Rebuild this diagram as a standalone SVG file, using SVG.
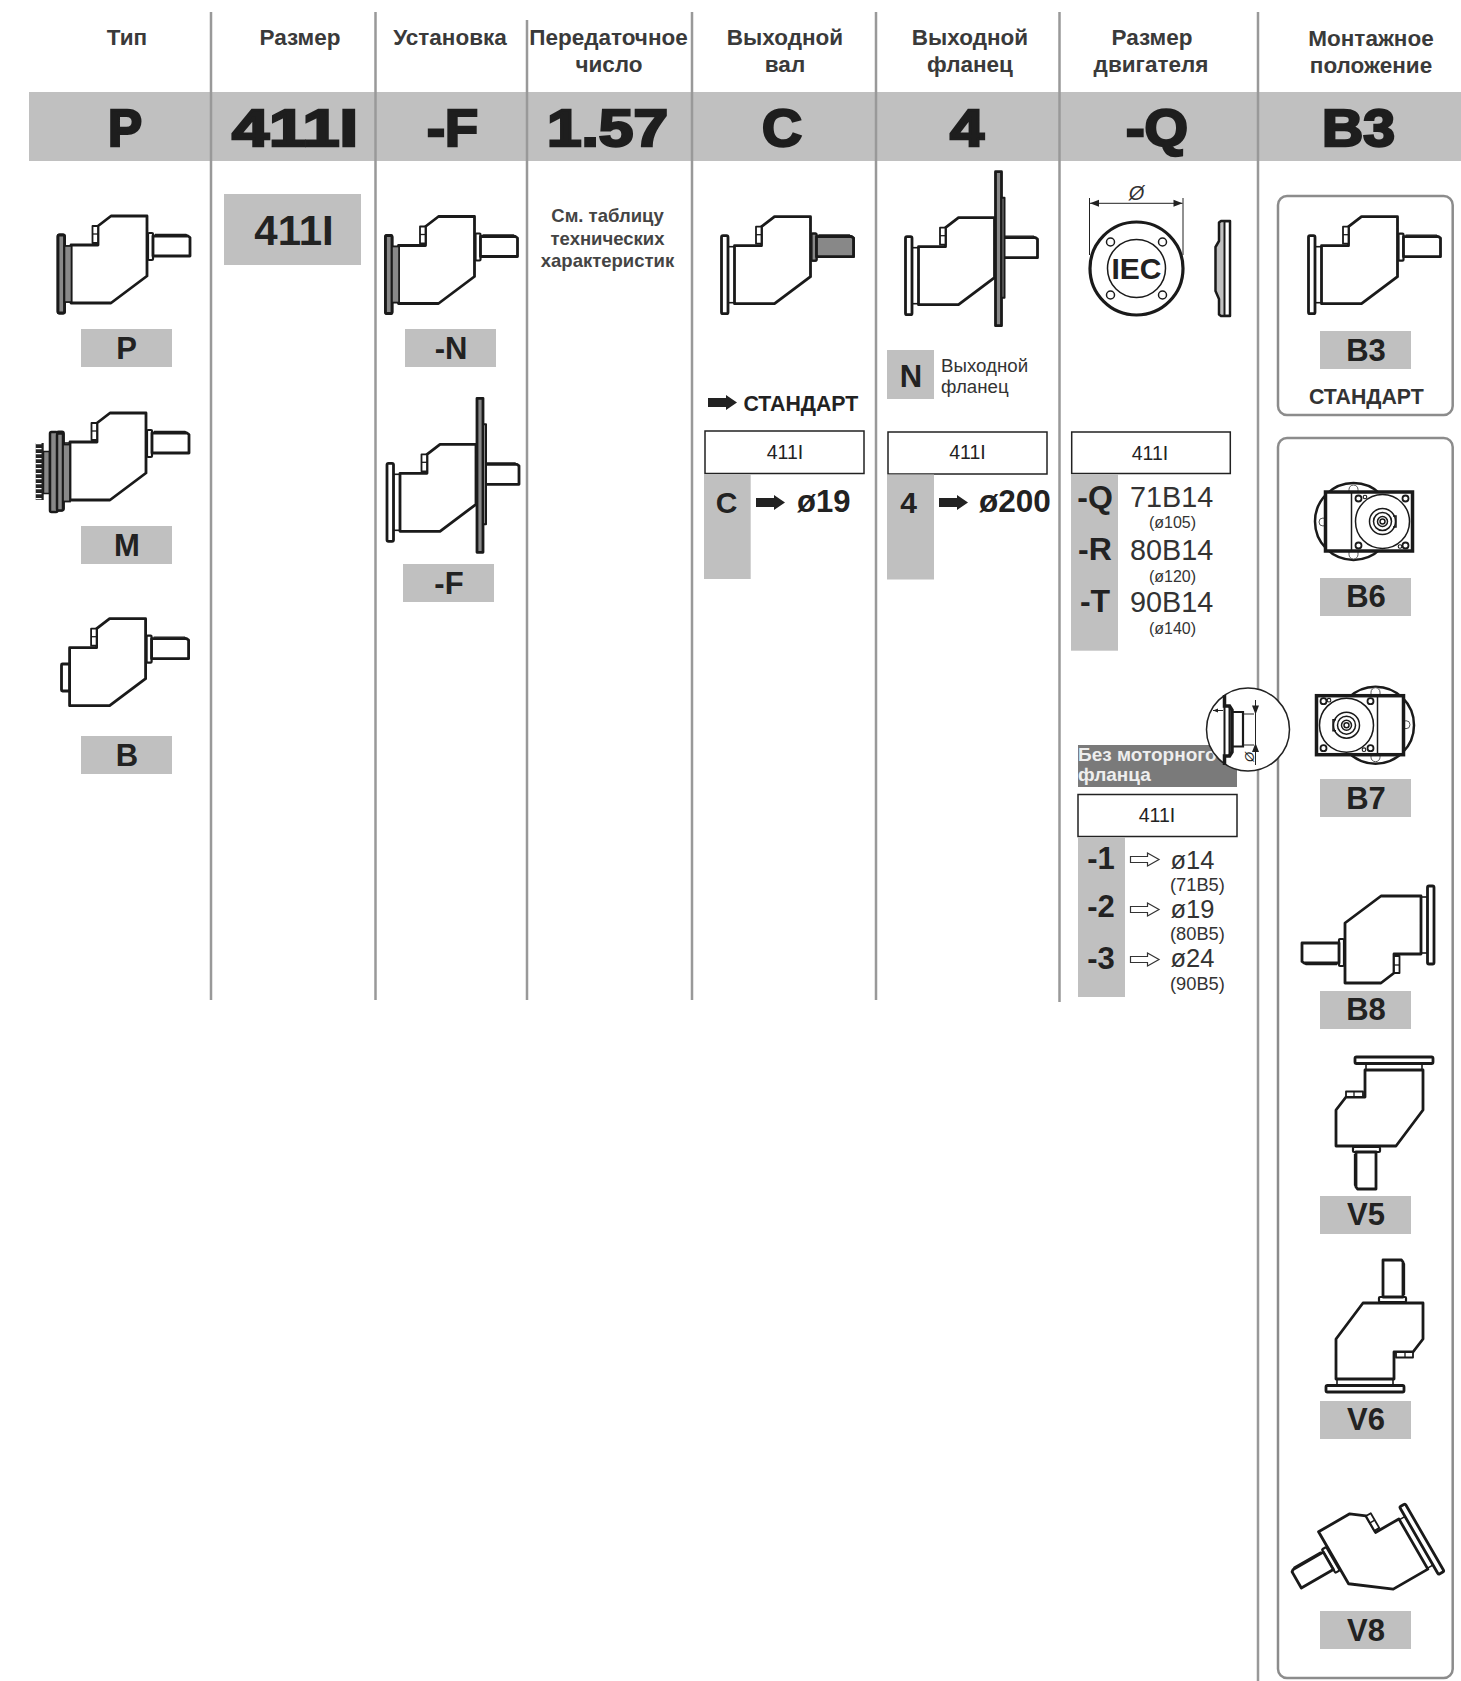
<svg xmlns="http://www.w3.org/2000/svg" xmlns:xlink="http://www.w3.org/1999/xlink" width="1461" height="1681" viewBox="0 0 1461 1681">
<style>
text{font-family:"Liberation Sans",Arial,sans-serif;fill:#222}
.h{font-size:22.500px;font-weight:bold;text-anchor:middle;fill:#3a3a3a}
.big{font-size:52px;font-weight:bold;fill:#1e1e1e;stroke:#1e1e1e;stroke-width:2.500}
.lb{font-size:31px;font-weight:bold;text-anchor:middle}
.g{fill:#c0c0c0}
.col{stroke:#999;stroke-width:2.5;fill:none}
.rb{fill:#fff;stroke:#8c8c8c;stroke-width:2.5}
.s{font-size:19.5px;text-anchor:middle}
.tb{fill:#fff;stroke:#222;stroke-width:1.5}
.m{font-size:28.8px;fill:#333}
.sm{font-size:16px;text-anchor:middle;fill:#333}
.st{font-size:21.300px;font-weight:bold}
.l{stroke:#1a1a1a;stroke-width:2.8;stroke-linejoin:round;stroke-linecap:round}
.t{stroke:#1a1a1a;stroke-width:1.3;fill:none}
.n{fill:none;stroke:#1a1a1a;stroke-width:1.5}
</style>
<defs>
<rect id="flange" class="l" x="1" y="19" width="6.500" height="78" rx="1.5"/>
<rect id="neck" x="7.5" y="30" width="7" height="56" stroke="#1a1a1a" stroke-width="1.6"/>
<path id="body" class="l" fill="#fff" d="M14,29H41V10L54,0H90V60L54,87H14Z"/>
<g id="tab"><rect class="l" style="stroke-width:1.8" fill="#fff" x="35.5" y="10" width="5.5" height="17"/><path class="t" d="M35.5,18H41"/></g>
<rect id="collar" class="l" style="stroke-width:2.200" x="91" y="17" width="5" height="27" rx="1"/>
<g id="shaft"><path class="l" d="M96,20H131L133,21.500V40H96Z"/><path class="t" d="M98,18.500H129L131,20"/></g>
<g id="bflange"><path class="l" fill="#888" d="M91,-46H97V108H91Z"/><path class="l" style="stroke-width:2" fill="#888" d="M97,-20H100V80H97Z"/></g>
<g id="gear" fill="#fff"><use href="#neck"/><use href="#flange"/><use href="#body"/><use href="#tab"/><use href="#collar"/><use href="#shaft"/></g>
<path id="sarr" fill="#222" d="M0,3H18V0L29,7.500L18,15V12H0Z"/>
<path id="oarr" fill="#fff" stroke="#333" stroke-width="1.2" d="M0,3.500H17V0L28.500,6.500L17,13V9.500H0Z"/>
<g id="topview">
<circle cx="1353.500" cy="521.500" r="38.500" fill="#fff" stroke="#1a1a1a" stroke-width="2.500"/>
<rect x="1349" y="485" width="9" height="12" rx="4.500" fill="#fff" stroke="#555" stroke-width="1"/>
<rect x="1349" y="547" width="9" height="12" rx="4.500" fill="#fff" stroke="#555" stroke-width="1"/>
<circle cx="1323" cy="522" r="4" fill="#fff" stroke="#555" stroke-width="1"/>
<rect x="1325.500" y="492" width="87" height="59" fill="#fff" stroke="#1a1a1a" stroke-width="3.500"/>
<path d="M1351.500,492V551" stroke="#1a1a1a" stroke-width="1.5"/>
<circle cx="1382.500" cy="521.500" r="27" class="n"/>
<circle cx="1382.500" cy="521.500" r="13" class="n"/><circle cx="1382.500" cy="521.500" r="9" class="n"/>
<circle cx="1382.500" cy="521.500" r="5" class="n"/><circle cx="1382.500" cy="521.500" r="2.500" class="n"/>
<path class="n" d="M1393,516h3v11h-3"/>
<g fill="#fff" stroke="#1a1a1a" stroke-width="1.800"><circle cx="1358.500" cy="498.500" r="3"/><circle cx="1405.500" cy="498.500" r="3"/><circle cx="1358.500" cy="545.500" r="3"/><circle cx="1405.500" cy="545.500" r="3"/></g>
<g fill="#fff" stroke="#1a1a1a" stroke-width="1.100"><circle cx="1365" cy="497" r="1.800"/><circle cx="1400" cy="546.500" r="1.800"/></g>
</g>
</defs>

<rect class="g" x="29" y="92" width="1432" height="69"/>

<g id="box-b3"><rect class="rb" x="1278" y="196" width="174.700" height="219" rx="9"/></g>
<g id="box-positions"><rect class="rb" x="1278" y="438" width="174.700" height="1240" rx="9"/></g>

<g id="column-lines" class="col">
<path d="M211,12V1000M375.500,12V1000M527,20V1000M692,12V1000M876,12V1000M1059.500,12V1002M1258,12V1681"/>
</g>

<g id="headers">
<text class="h" x="127" y="45">Тип</text>
<text class="h" x="300" y="45">Размер</text>
<text class="h" x="450" y="45">Установка</text>
<text class="h" x="608.500" y="45">Передаточное</text><text class="h" x="609" y="72">число</text>
<text class="h" x="785" y="45">Выходной</text><text class="h" x="785" y="72">вал</text>
<text class="h" x="970" y="45">Выходной</text><text class="h" x="970" y="72">фланец</text>
<text class="h" x="1152" y="45">Размер</text><text class="h" x="1151" y="72">двигателя</text>
<text class="h" x="1371" y="46">Монтажное</text><text class="h" x="1371" y="73">положение</text>
</g>

<g id="code">
<text class="big" x="108" y="146" textLength="34" lengthAdjust="spacingAndGlyphs">P</text>
<text class="big" x="232" y="146" textLength="126" lengthAdjust="spacingAndGlyphs">411I</text>
<text class="big" x="427" y="146" textLength="51" lengthAdjust="spacingAndGlyphs">-F</text>
<text class="big" x="547" y="146" textLength="121" lengthAdjust="spacingAndGlyphs">1.57</text>
<text class="big" x="762" y="146" textLength="40" lengthAdjust="spacingAndGlyphs">C</text>
<text class="big" x="950" y="146" textLength="34" lengthAdjust="spacingAndGlyphs">4</text>
<text class="big" x="1126" y="146" textLength="62" lengthAdjust="spacingAndGlyphs">-Q</text>
<text class="big" x="1322" y="146" textLength="73" lengthAdjust="spacingAndGlyphs">B3</text>
</g>

<g id="type-p">
<g transform="translate(57,216)"><use href="#gear"/><use href="#flange" fill="#888"/><use href="#neck" fill="#888"/></g>
<rect class="g" x="81" y="329" width="91" height="38"/><text class="lb" x="126.500" y="359">P</text>
</g>
<g id="type-m">
<g transform="translate(56,413)"><use href="#gear"/></g>
<rect x="35.700" y="443" width="8" height="57" fill="#222"/>
<path d="M38.500,443V500" stroke="#fff" stroke-width="6" stroke-dasharray="1.200 3.800" fill="none"/>
<rect x="43.500" y="451.500" width="6" height="42" fill="#888" stroke="#1a1a1a" stroke-width="1.500"/>
<rect x="50" y="432" width="7.500" height="80" rx="1.500" fill="#888" stroke="#1a1a1a" stroke-width="2.500"/>
<rect x="57" y="433.500" width="6" height="77" rx="1.500" fill="#888" stroke="#1a1a1a" stroke-width="2.500"/>
<rect x="63" y="444.500" width="7" height="57" fill="#888" stroke="#1a1a1a" stroke-width="1.800"/>
<rect class="g" x="81" y="526" width="91" height="38"/><text class="lb" x="127" y="556">M</text>
</g>
<g id="type-b">
<g transform="translate(55.600,618.700)" fill="#fff"><use href="#body"/><use href="#tab"/><use href="#collar"/><use href="#shaft"/></g>
<rect class="l" fill="#fff" x="61.500" y="664" width="8" height="27" rx="1"/>
<rect class="g" x="81" y="736" width="91" height="38"/><text class="lb" x="127" y="766">B</text>
</g>

<g id="size-411i">
<rect class="g" x="224" y="194" width="137" height="71"/>
<text x="294" y="245" font-size="42" font-weight="bold" text-anchor="middle">411I</text>
</g>

<g id="mount-n">
<g transform="translate(384.500,216.500)"><use href="#gear"/><use href="#flange" fill="#888"/><use href="#neck" fill="#888"/></g>
<rect class="g" x="405" y="329" width="91" height="38"/><text class="lb" x="451" y="359">-N</text>
</g>
<g id="mount-f">
<g transform="translate(386,444.300)" fill="#fff"><use href="#neck"/><use href="#flange"/><use href="#body"/><use href="#tab"/><use href="#shaft"/><use href="#bflange"/></g>
<rect class="g" x="403" y="564" width="91" height="38"/><text class="lb" x="449" y="594">-F</text>
</g>

<g id="ratio-note" font-size="18.500" font-weight="bold" text-anchor="middle">
<text x="607.500" y="222" style="fill:#444">См. таблицу</text>
<text x="607.500" y="245" style="fill:#444">технических</text>
<text x="607.500" y="267" style="fill:#444">характеристик</text>
</g>

<g id="shaft-c">
<g transform="translate(720.500,216.700)"><use href="#gear"/><use href="#collar" fill="#888"/><use href="#shaft" fill="#888"/></g>
<use href="#sarr" x="708" y="395"/>
<text class="st" x="743.500" y="410.500">СТАНДАРТ</text>
<rect class="tb" x="705" y="431" width="159" height="42.500"/><text class="s" x="785" y="459">411I</text>
<rect class="g" x="704" y="474" width="46.700" height="105"/>
<text class="lb" x="726.500" y="513" style="font-size:30px">C</text>
<use href="#sarr" x="756" y="495"/>
<text x="797" y="511.500" font-size="31" font-weight="bold">ø19</text>
</g>

<g id="flange-4">
<g transform="translate(904.500,217.700)" fill="#fff"><use href="#neck"/><use href="#flange"/><use href="#body"/><use href="#tab"/><use href="#shaft"/><use href="#bflange"/></g>
<rect class="g" x="887" y="350" width="47" height="49"/><text class="lb" x="911" y="387">N</text>
<text x="941" y="372" font-size="18.700" style="fill:#333">Выходной</text>
<text x="941" y="393" font-size="18.700" style="fill:#333">фланец</text>
<rect class="tb" x="888" y="432" width="159" height="42"/><text class="s" x="967.500" y="459">411I</text>
<rect class="g" x="887" y="474.500" width="47" height="105"/>
<text class="lb" x="908.500" y="513" style="font-size:30px">4</text>
<use href="#sarr" x="939" y="495"/>
<text x="979" y="511.500" font-size="31.500" font-weight="bold">ø200</text>
</g>

<g id="motor-iec">
<circle cx="1136.500" cy="268.500" r="46.500" fill="#fff" stroke="#1a1a1a" stroke-width="3.200"/>
<circle cx="1136.500" cy="268.500" r="29" fill="none" stroke="#1a1a1a" stroke-width="1.500"/>
<g fill="#fff" stroke="#1a1a1a" stroke-width="1.500"><circle cx="1110.500" cy="242" r="4"/><circle cx="1162.500" cy="242" r="4"/><circle cx="1110.500" cy="295" r="4"/><circle cx="1162.500" cy="295" r="4"/></g>
<text x="1136.500" y="278.500" font-size="30" font-weight="bold" text-anchor="middle">IEC</text>
<path d="M1089.500,198V255M1183,198V255M1090,203.300H1182.500" stroke="#222" stroke-width="1" fill="none"/>
<path d="M1090,203.300l9,-3.500v7ZM1182.500,203.300l-9,-3.500v7Z" fill="#222"/>
<text x="1136.500" y="200" font-size="20" font-style="italic" text-anchor="middle" style="fill:#333">Ø</text>
<path fill="#c0c0c0" stroke="#1a1a1a" stroke-width="2.500" stroke-linejoin="round" d="M1219,241V222.500L1221,221H1230V316H1221L1219,314.500V299L1215.500,291V247Z"/>
<rect x="1224.500" y="223" width="4" height="91" fill="#fff"/>
<path d="M1224.500,221V316" stroke="#1a1a1a" stroke-width="2"/>
</g>

<g id="motor-table">
<rect class="tb" x="1071.700" y="432" width="158.600" height="41.500"/><text class="s" x="1150" y="460">411I</text>
<rect class="g" x="1071" y="474" width="47" height="176.700"/>
<text class="lb" x="1095" y="508" style="font-size:32px">-Q</text>
<text class="lb" x="1095" y="559.500" style="font-size:32px">-R</text>
<text class="lb" x="1095" y="612" style="font-size:32px">-T</text>
<text class="m" x="1130" y="506.500">71B14</text><text class="sm" x="1172.500" y="528">(ø105)</text>
<text class="m" x="1130" y="559.500">80B14</text><text class="sm" x="1172.500" y="581.500">(ø120)</text>
<text class="m" x="1130" y="612">90B14</text><text class="sm" x="1172.500" y="634">(ø140)</text>
</g>

<g id="no-flange-table">
<rect x="1078" y="745" width="159" height="42" fill="#7a7a7a"/>
<text x="1078" y="761" font-size="19" font-weight="bold" style="fill:#eee">Без моторного</text>
<text x="1078" y="781" font-size="19" font-weight="bold" style="fill:#eee">фланца</text>
<rect class="tb" x="1078" y="794.500" width="159" height="42"/><text class="s" x="1157" y="821.500">411I</text>
<rect class="g" x="1078" y="837" width="47" height="160"/>
<text class="lb" x="1101" y="868.500" style="font-size:31px">-1</text>
<text class="lb" x="1101" y="917" style="font-size:31px">-2</text>
<text class="lb" x="1101" y="968.500" style="font-size:31px">-3</text>
<use href="#oarr" x="1130.500" y="853"/><use href="#oarr" x="1130.500" y="903"/><use href="#oarr" x="1130.500" y="953"/>
<text x="1170.500" y="868.500" font-size="25.500" style="fill:#333">ø14</text><text x="1170" y="891" font-size="18.300" style="fill:#333">(71B5)</text>
<text x="1170.500" y="917.500" font-size="25.500" style="fill:#333">ø19</text><text x="1170" y="940" font-size="18.300" style="fill:#333">(80B5)</text>
<text x="1170.500" y="966.500" font-size="25.500" style="fill:#333">ø24</text><text x="1170" y="990" font-size="18.300" style="fill:#333">(90B5)</text>
</g>

<g id="detail">
<circle cx="1248" cy="729.500" r="41.500" fill="#fff" stroke="#222" stroke-width="1.500"/>
<path d="M1224.500,695V706H1229.500L1232,710V752L1229.500,756H1224.500V765" fill="none" stroke="#1a1a1a" stroke-width="3.500"/>
<path d="M1224.500,706V756M1229.500,706V756" stroke="#1a1a1a" stroke-width="2"/>
<path d="M1232,712H1243V746.500H1232" fill="none" stroke="#1a1a1a" stroke-width="2.200"/>
<path d="M1243,714H1254M1243,745H1254M1255.500,700V765M1213,710.500H1223" fill="none" stroke="#222" stroke-width="1"/>
<path d="M1255.500,714.500l-3.500,-9h7ZM1255.500,743l-3.500,9h7ZM1213,710.500l5,-2v4Z" fill="#222"/>
<text transform="translate(1254,757) rotate(-90)" font-size="13" font-style="italic" text-anchor="middle">Ø</text>
</g>

<g id="pos-b3"><g transform="translate(1307.500,216.700)"><use href="#gear"/></g>
<rect class="g" x="1320" y="331" width="91" height="38"/><text class="lb" x="1366" y="360.500">B3</text>
<text class="st" x="1309" y="403.500" style="fill:#333">СТАНДАРТ</text></g>
<g id="pos-b6"><use href="#topview"/>
<rect class="g" x="1320" y="578" width="91" height="38"/><text class="lb" x="1366" y="606.500">B6</text></g>
<g id="pos-b7"><g transform="translate(2729,1246.700) rotate(180)"><use href="#topview"/></g>
<rect class="g" x="1320" y="779" width="91" height="38"/><text class="lb" x="1366" y="809">B7</text></g>
<g id="pos-b8"><g transform="translate(1435,983) rotate(180)"><use href="#gear"/></g>
<rect class="g" x="1320" y="991" width="91" height="38"/><text class="lb" x="1366" y="1020">B8</text></g>
<g id="pos-v5"><g transform="matrix(0,1,1,0,1336,1056)"><use href="#gear"/></g>
<rect class="g" x="1320" y="1196" width="91" height="38"/><text class="lb" x="1366" y="1225">V5</text></g>
<g id="pos-v6"><g transform="matrix(0,-1,-1,0,1423,1393)"><use href="#gear"/></g>
<rect class="g" x="1320" y="1401" width="91" height="38"/><text class="lb" x="1366" y="1430">V6</text></g>
<g id="pos-v8"><g transform="matrix(-0.866,0.5,0.5,0.866,1396.500,1486.800)"><use href="#gear"/></g>
<rect class="g" x="1320" y="1611" width="91" height="38"/><text class="lb" x="1366" y="1640.500">V8</text></g>
<g id="connectors"/>
</svg>
